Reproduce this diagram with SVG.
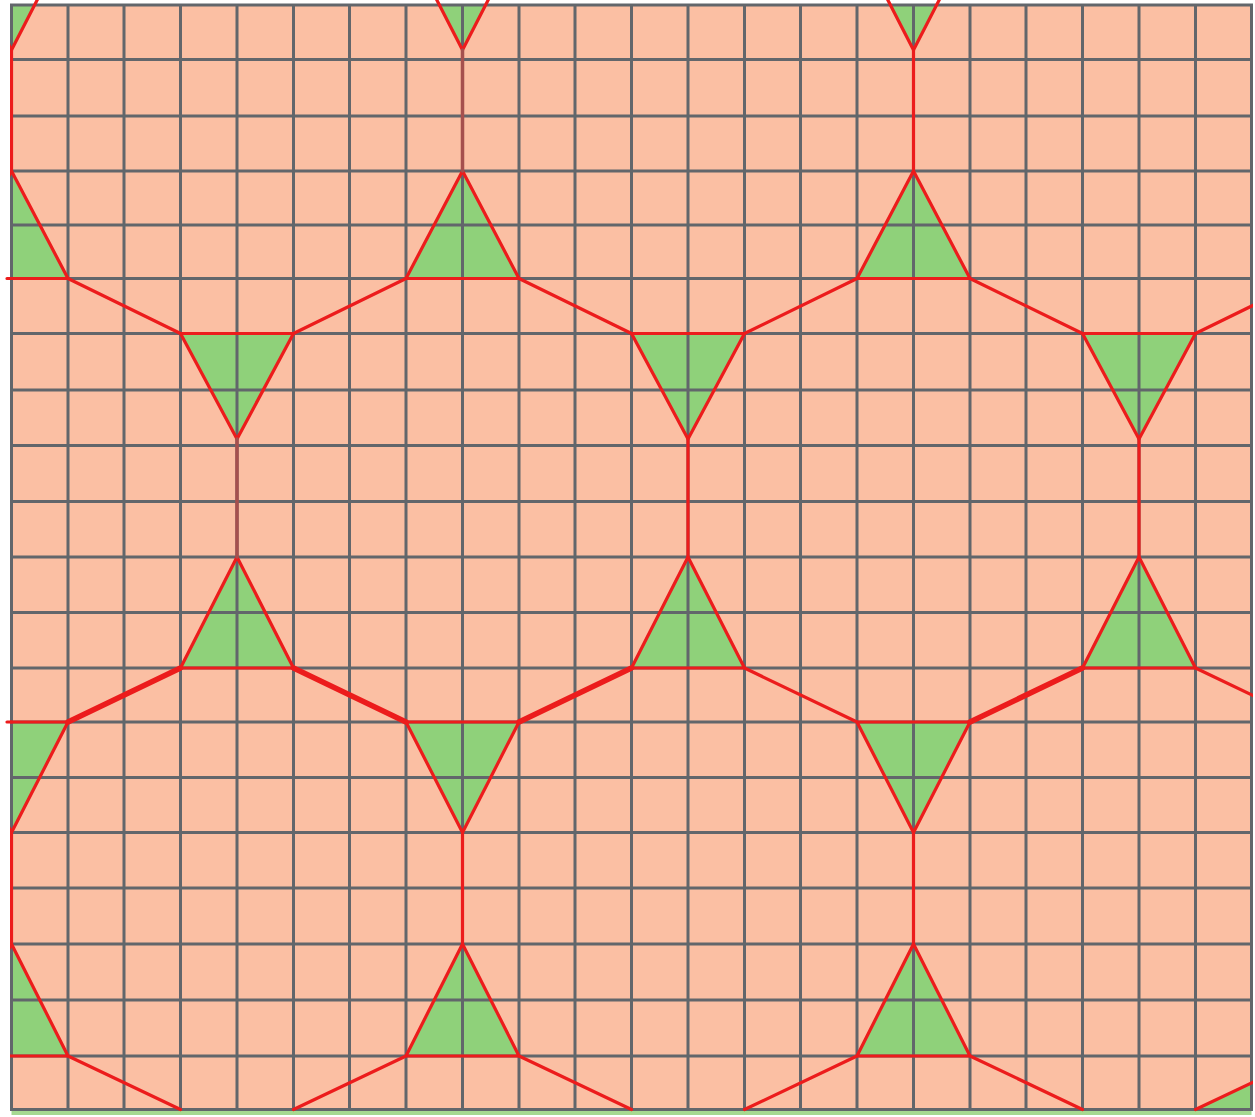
<svg xmlns="http://www.w3.org/2000/svg" width="1255" height="1117" viewBox="0 0 1255 1117">
<style>
.tri{fill:#8fd17a;stroke:none}
.g{stroke:#62666b;stroke-width:3;fill:none}
.r{stroke:#ec1c1c;stroke-width:3.2;fill:none;stroke-linecap:round;stroke-linejoin:round}
.rt{stroke-width:5.5}
.rg{stroke:#a5504e;stroke-width:3.5}
</style>
<defs>
<clipPath id="cf"><rect x="11.5" y="5" width="1240" height="1104.5"/></clipPath>
<clipPath id="cl"><rect x="10" y="0" width="1243" height="1112"/></clipPath>
</defs>
<rect width="1255" height="1117" fill="#ffffff"/>
<rect x="11.5" y="5" width="1240" height="1104.5" fill="#fbbfa3"/>
<rect x="11.5" y="1110" width="1240" height="5" fill="#a6d991"/>
<g id="fills" clip-path="url(#cf)">
<g id="d0a"><polygon class="tri" points="-45,-60 68,-60 11.5,50"/></g>
<g id="d0b"><polygon class="tri" points="406,-60 519,-60 462.5,50"/></g>
<g id="d0c"><polygon class="tri" points="857,-60 970,-60 913.5,50"/></g>
<g id="u1a"><polygon class="tri" points="11.5,171 -45,278.5 68,278.5"/></g>
<g id="u1b"><polygon class="tri" points="462.5,171 406,278.5 519,278.5"/></g>
<g id="u1c"><polygon class="tri" points="913.5,171 857,278.5 970,278.5"/></g>
<g id="d2a"><polygon class="tri" points="180.5,333.5 293.5,333.5 237,439"/></g>
<g id="d2b"><polygon class="tri" points="631.5,333.5 744.5,333.5 688,439"/></g>
<g id="d2c"><polygon class="tri" points="1082.5,333.5 1195.5,333.5 1139,439"/></g>
<g id="u2a"><polygon class="tri" points="237,557 180.5,668 293.5,668"/></g>
<g id="u2b"><polygon class="tri" points="688,557 631.5,668 744.5,668"/></g>
<g id="u2c"><polygon class="tri" points="1139,557 1082.5,668 1195.5,668"/></g>
<g id="d3a"><polygon class="tri" points="-45,722 68,722 11.5,832.5"/></g>
<g id="d3b"><polygon class="tri" points="406,722 519,722 462.5,832.5"/></g>
<g id="d3c"><polygon class="tri" points="857,722 970,722 913.5,832.5"/></g>
<g id="u3a"><polygon class="tri" points="11.5,944 -45,1056 68,1056"/></g>
<g id="u3b"><polygon class="tri" points="462.5,944 406,1056 519,1056"/></g>
<g id="u3c"><polygon class="tri" points="913.5,944 857,1056 970,1056"/></g>
<g id="cornerBR"><polygon class="tri" points="1195.5,1109.5 1308,1056 1308,1109.5"/></g>
</g>
<g id="grid" class="g">
<path d="M11.5 5V1109.5M68 5V1109.5M124 5V1109.5M180.5 5V1109.5M237 5V1109.5M293.5 5V1109.5M349.5 5V1109.5M406 5V1109.5M462.5 5V1109.5M519 5V1109.5M575 5V1109.5M631.5 5V1109.5M688 5V1109.5M744.5 5V1109.5M800.5 5V1109.5M857 5V1109.5M913.5 5V1109.5M970 5V1109.5M1026 5V1109.5M1082.5 5V1109.5M1139 5V1109.5M1195.5 5V1109.5M1251.5 5V1109.5"/>
<path d="M10 5H1253M10 59.5H1253M10 116H1253M10 171H1253M10 225H1253M10 278.5H1253M10 333.5H1253M10 390H1253M10 445.5H1253M10 501.5H1253M10 557H1253M10 612.5H1253M10 668H1253M10 722H1253M10 777.5H1253M10 832.5H1253M10 888H1253M10 944H1253M10 1000H1253M10 1056H1253M10 1109.5H1253"/>
</g>
<g id="outlines" clip-path="url(#cl)">
<polygon class="r" points="-45,-60 68,-60 11.5,50"/>
<polygon class="r" points="406,-60 519,-60 462.5,50"/>
<polygon class="r" points="857,-60 970,-60 913.5,50"/>
<polygon class="r" points="11.5,171 -45,278.5 68,278.5"/>
<polygon class="r" points="462.5,171 406,278.5 519,278.5"/>
<polygon class="r" points="913.5,171 857,278.5 970,278.5"/>
<polygon class="r" points="180.5,333.5 293.5,333.5 237,439"/>
<polygon class="r" points="631.5,333.5 744.5,333.5 688,439"/>
<polygon class="r" points="1082.5,333.5 1195.5,333.5 1139,439"/>
<polygon class="r" points="237,557 180.5,668 293.5,668"/>
<polygon class="r" points="688,557 631.5,668 744.5,668"/>
<polygon class="r" points="1139,557 1082.5,668 1195.5,668"/>
<polygon class="r" points="-45,722 68,722 11.5,832.5"/>
<polygon class="r" points="406,722 519,722 462.5,832.5"/>
<polygon class="r" points="857,722 970,722 913.5,832.5"/>
<polygon class="r" points="11.5,944 -45,1056 68,1056"/>
<polygon class="r" points="462.5,944 406,1056 519,1056"/>
<polygon class="r" points="913.5,944 857,1056 970,1056"/>
</g>
<g id="connectors">
<g clip-path="url(#cl)">
<path class="r" d="M11.5 50V171M913.5 50V171M688 439V557M1139 439V557M11.5 832.5V944M462.5 832.5V944M913.5 832.5V944"/>
<path class="r rg" d="M462.5 50V171M237 439V557"/>
<path class="r" d="M68 278.5L180.5 333.5M406 278.5L293.5 333.5M519 278.5L631.5 333.5M857 278.5L744.5 333.5M970 278.5L1082.5 333.5M1308 278.5L1195.5 333.5"/>
<path class="r rt" d="M180.5 668L68 722M293.5 668L406 722M631.5 668L519 722M1082.5 668L970 722"/>
<path class="r" d="M744.5 668L857 722M1195.5 668L1308 722"/>
<path class="r" d="M68 1056L180.5 1109.5M406 1056L293.5 1109.5M519 1056L631.5 1109.5M857 1056L744.5 1109.5M970 1056L1082.5 1109.5M1195.5 1109.5L1308 1056"/>
</g>
<path class="r" d="M7 278.5H12M7 722H12"/>
</g>
</svg>
